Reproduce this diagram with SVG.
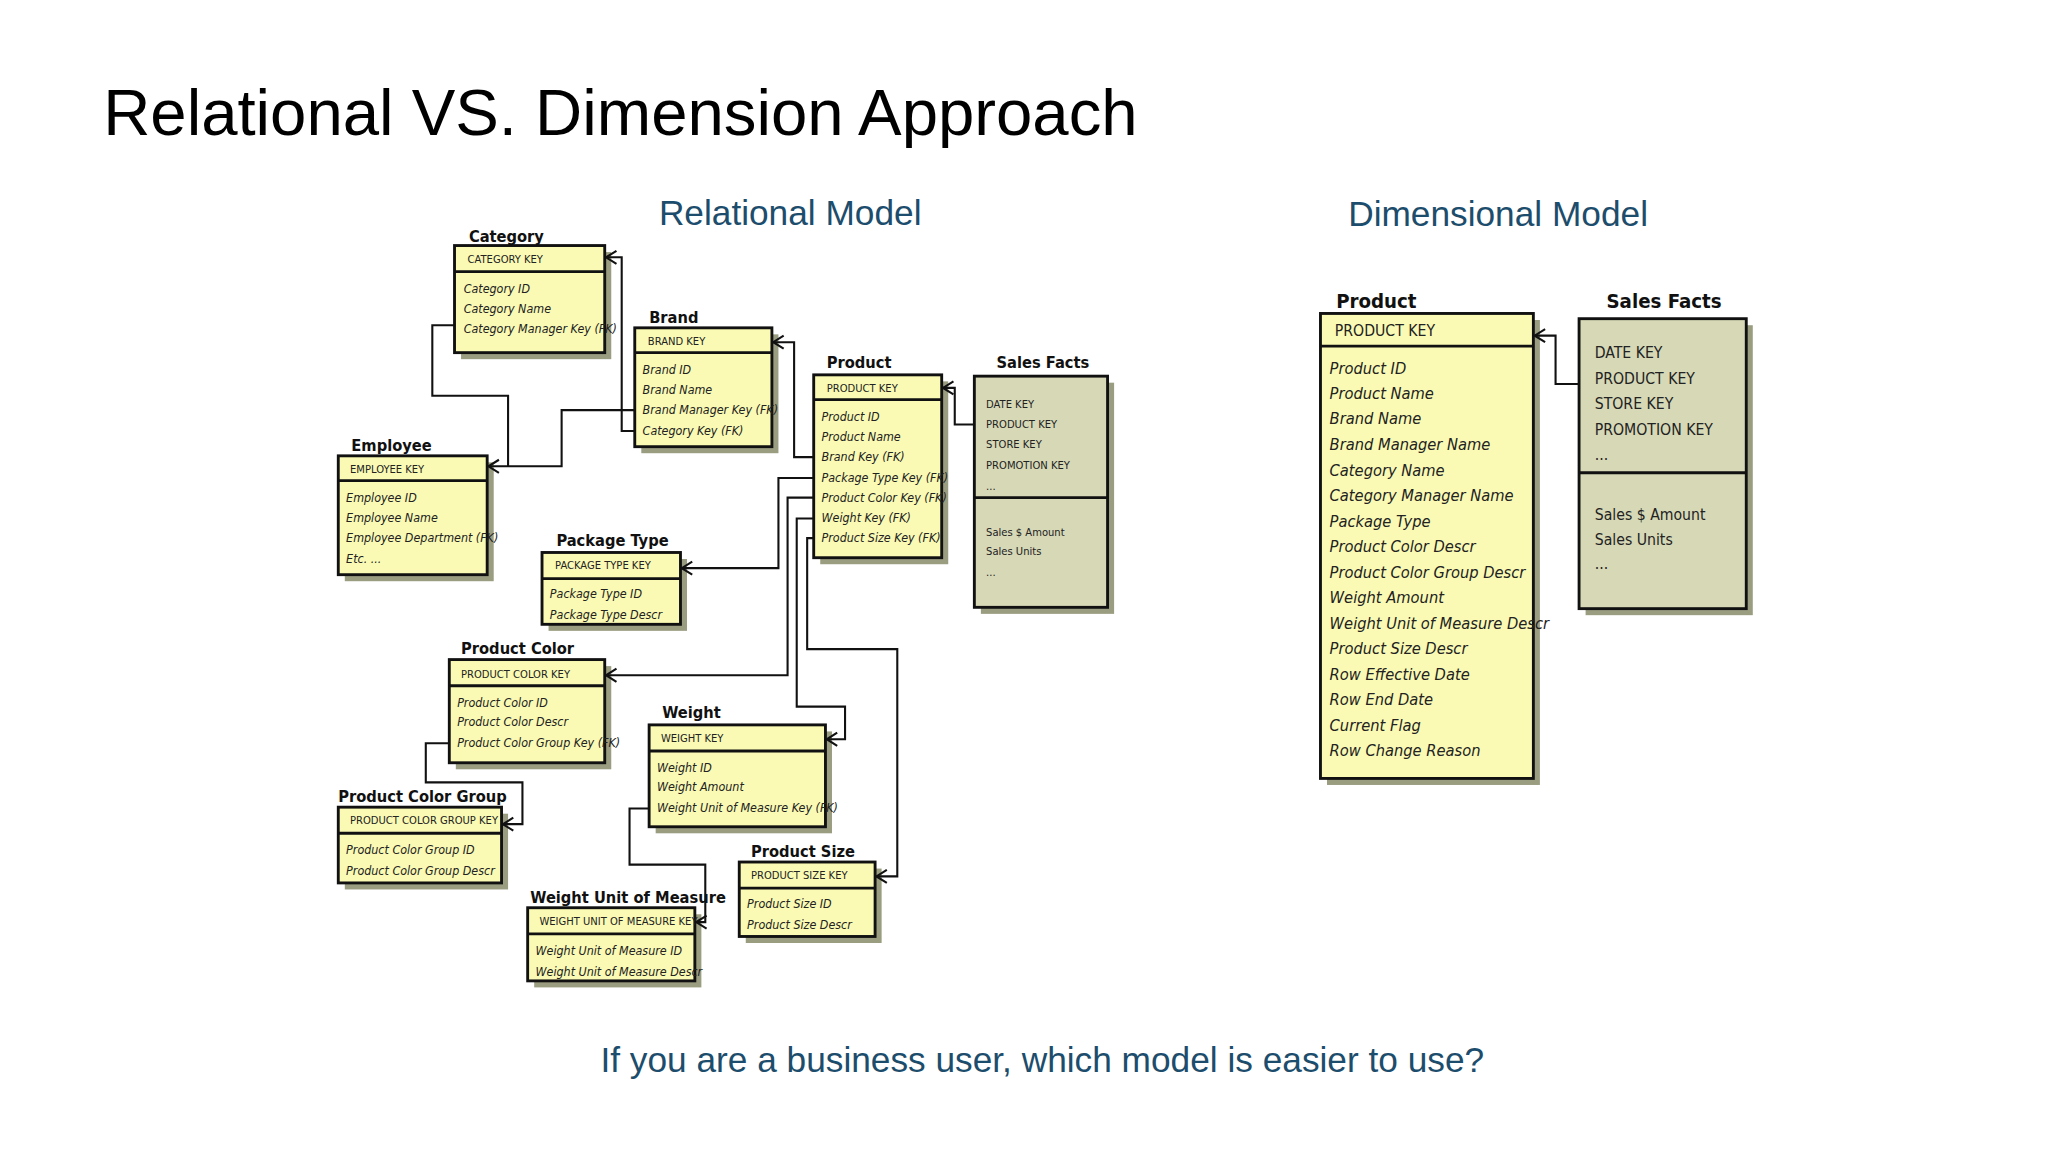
<svg xmlns="http://www.w3.org/2000/svg" width="2048" height="1152" viewBox="0 0 2048 1152">
<defs>
<marker id="ar" markerUnits="userSpaceOnUse" markerWidth="12" markerHeight="12" refX="9" refY="6" orient="auto"><path d="M1,1 L9,6 L1,11" fill="none" stroke="#111" stroke-width="1.6"/></marker>
<style>
.sh{fill:#9a9d80}
.bx{fill:#fafab4;stroke:#111;stroke-width:2.2}
.bg{fill:#d6d8b6;stroke:#111;stroke-width:2.2}
.ln{stroke:#111;stroke-width:2.2}
.tt{font-family:"DejaVu Sans Condensed","Liberation Sans",sans-serif;font-weight:bold;font-size:12.5px;fill:#111;font-stretch:condensed}
.ky{font-family:"DejaVu Sans Condensed","Liberation Sans",sans-serif;font-size:8.5px;fill:#222;font-stretch:condensed}
.at{font-family:"DejaVu Sans Condensed","Liberation Sans",sans-serif;font-style:italic;font-size:9.5px;fill:#222;font-stretch:condensed}
.tt2{font-family:"DejaVu Sans Condensed","Liberation Sans",sans-serif;font-weight:bold;font-size:15.5px;fill:#111}
.ky2{font-family:"DejaVu Sans Condensed","Liberation Sans",sans-serif;font-size:12px;fill:#222}
.at2{font-family:"DejaVu Sans Condensed","Liberation Sans",sans-serif;font-style:italic;font-size:12.5px;fill:#222}
.cn{fill:none;stroke:#111;stroke-width:1.6}
.hd{font-family:"Liberation Sans",Arial,sans-serif;font-size:27px;fill:#1d4d6c}
</style>
</defs>
<rect width="2048" height="1152" fill="#fff"/>
<g transform="scale(1.3061)">
<text x="79" y="103" font-family="Liberation Sans,Arial,sans-serif" font-size="50" fill="#000">Relational VS. Dimension Approach</text>
<text class="hd" x="605" y="172" text-anchor="middle">Relational Model</text>
<text class="hd" x="1147" y="173" text-anchor="middle">Dimensional Model</text>
<text class="hd" x="798" y="821" text-anchor="middle">If you are a business user, which model is easier to use?</text>

<g id="category"><text class="tt" x="359" y="185">Category</text><rect class="sh" x="353" y="193" width="115" height="82"/><rect class="bx" x="348" y="188" width="115" height="82"/><line class="ln" x1="348" y1="208" x2="463" y2="208"/><text class="ky" x="358" y="201">CATEGORY KEY</text><text class="at" x="355" y="224">Category ID</text><text class="at" x="355" y="240">Category Name</text><text class="at" x="355" y="255">Category Manager Key (FK)</text></g>
<g id="brand"><text class="tt" x="497" y="247">Brand</text><rect class="sh" x="491" y="256" width="105" height="91"/><rect class="bx" x="486" y="251" width="105" height="91"/><line class="ln" x1="486" y1="270" x2="591" y2="270"/><text class="ky" x="496" y="264">BRAND KEY</text><text class="at" x="492" y="286">Brand ID</text><text class="at" x="492" y="302">Brand Name</text><text class="at" x="492" y="317">Brand Manager Key (FK)</text><text class="at" x="492" y="333">Category Key (FK)</text></g>
<g id="product"><text class="tt" x="633" y="282">Product</text><rect class="sh" x="628" y="292" width="98" height="140"/><rect class="bx" x="623" y="287" width="98" height="140"/><line class="ln" x1="623" y1="306" x2="721" y2="306"/><text class="ky" x="633" y="300">PRODUCT KEY</text><text class="at" x="629" y="322">Product ID</text><text class="at" x="629" y="338">Product Name</text><text class="at" x="629" y="353">Brand Key (FK)</text><text class="at" x="629" y="369">Package Type Key (FK)</text><text class="at" x="629" y="384">Product Color Key (FK)</text><text class="at" x="629" y="400">Weight Key (FK)</text><text class="at" x="629" y="415">Product Size Key (FK)</text></g>
<g id="salesfacts-rel"><text class="tt" x="763" y="282">Sales Facts</text><rect class="sh" x="751" y="293" width="102" height="177"/><rect class="bg" x="746" y="288" width="102" height="177"/><line class="ln" x1="746" y1="381" x2="848" y2="381"/><text class="ky" x="755" y="312">DATE KEY</text><text class="ky" x="755" y="328">PRODUCT KEY</text><text class="ky" x="755" y="343">STORE KEY</text><text class="ky" x="755" y="359">PROMOTION KEY</text><text class="ky" x="755" y="375">...</text><text class="ky" x="755" y="410">Sales $ Amount</text><text class="ky" x="755" y="425">Sales Units</text><text class="ky" x="755" y="441">...</text></g>
<g id="employee"><text class="tt" x="269" y="345">Employee</text><rect class="sh" x="264" y="354" width="114" height="91"/><rect class="bx" x="259" y="349" width="114" height="91"/><line class="ln" x1="259" y1="368" x2="373" y2="368"/><text class="ky" x="268" y="362">EMPLOYEE KEY</text><text class="at" x="265" y="384">Employee ID</text><text class="at" x="265" y="400">Employee Name</text><text class="at" x="265" y="415">Employee Department (FK)</text><text class="at" x="265" y="431">Etc. ...</text></g>
<g id="packagetype"><text class="tt" x="426" y="418">Package Type</text><rect class="sh" x="420" y="428" width="106" height="55"/><rect class="bx" x="415" y="423" width="106" height="55"/><line class="ln" x1="415" y1="443" x2="521" y2="443"/><text class="ky" x="425" y="436">PACKAGE TYPE KEY</text><text class="at" x="421" y="458">Package Type ID</text><text class="at" x="421" y="474">Package Type Descr</text></g>
<g id="productcolor"><text class="tt" x="353" y="501">Product Color</text><rect class="sh" x="349" y="510" width="119" height="79"/><rect class="bx" x="344" y="505" width="119" height="79"/><line class="ln" x1="344" y1="525" x2="463" y2="525"/><text class="ky" x="353" y="519">PRODUCT COLOR KEY</text><text class="at" x="350" y="541">Product Color ID</text><text class="at" x="350" y="556">Product Color Descr</text><text class="at" x="350" y="572">Product Color Group Key (FK)</text></g>
<g id="weight"><text class="tt" x="507" y="550">Weight</text><rect class="sh" x="502" y="560" width="135" height="78"/><rect class="bx" x="497" y="555" width="135" height="78"/><line class="ln" x1="497" y1="575" x2="632" y2="575"/><text class="ky" x="506" y="568">WEIGHT KEY</text><text class="at" x="503" y="591">Weight ID</text><text class="at" x="503" y="606">Weight Amount</text><text class="at" x="503" y="622">Weight Unit of Measure Key (FK)</text></g>
<g id="productcolorgroup"><text class="tt" x="259" y="614">Product Color Group</text><rect class="sh" x="264" y="623" width="125" height="58"/><rect class="bx" x="259" y="618" width="125" height="58"/><line class="ln" x1="259" y1="638" x2="384" y2="638"/><text class="ky" x="268" y="631">PRODUCT COLOR GROUP  KEY</text><text class="at" x="265" y="654">Product Color Group ID</text><text class="at" x="265" y="670">Product Color Group Descr</text></g>
<g id="weightuom"><text class="tt" x="406" y="691">Weight Unit of Measure</text><rect class="sh" x="409" y="700" width="128" height="56"/><rect class="bx" x="404" y="695" width="128" height="56"/><line class="ln" x1="404" y1="715" x2="532" y2="715"/><text class="ky" x="413" y="708">WEIGHT UNIT OF MEASURE KEY</text><text class="at" x="410" y="731">Weight Unit of Measure ID</text><text class="at" x="410" y="747">Weight Unit of Measure Descr</text></g>
<g id="productsize"><text class="tt" x="575" y="656">Product Size</text><rect class="sh" x="571" y="665" width="104" height="57"/><rect class="bx" x="566" y="660" width="104" height="57"/><line class="ln" x1="566" y1="680" x2="670" y2="680"/><text class="ky" x="575" y="673">PRODUCT SIZE KEY</text><text class="at" x="572" y="695">Product Size ID</text><text class="at" x="572" y="711">Product Size Descr</text></g>

<g id="dim-product"><text class="tt2" x="1023" y="236">Product</text><rect class="sh" x="1016" y="245" width="163" height="356"/><rect class="bx" x="1011" y="240" width="163" height="356"/><line class="ln" x1="1011" y1="265" x2="1174" y2="265"/><text class="ky2" x="1022" y="257">PRODUCT KEY</text>
<text class="at2" x="1018" y="286">Product ID</text><text class="at2" x="1018" y="305.5">Product Name</text><text class="at2" x="1018" y="325">Brand Name</text><text class="at2" x="1018" y="344.6">Brand Manager Name</text><text class="at2" x="1018" y="364.1">Category Name</text><text class="at2" x="1018" y="383.6">Category Manager Name</text><text class="at2" x="1018" y="403.2">Package Type</text><text class="at2" x="1018" y="422.7">Product Color Descr</text><text class="at2" x="1018" y="442.2">Product Color Group Descr</text><text class="at2" x="1018" y="461.8">Weight Amount</text><text class="at2" x="1018" y="481.3">Weight Unit of Measure Descr</text><text class="at2" x="1018" y="500.8">Product  Size Descr</text><text class="at2" x="1018" y="520.4">Row Effective Date</text><text class="at2" x="1018" y="539.9">Row End Date</text><text class="at2" x="1018" y="559.4">Current Flag</text><text class="at2" x="1018" y="579">Row Change Reason</text></g>
<g id="dim-salesfacts"><text class="tt2" x="1230" y="236">Sales Facts</text><rect class="sh" x="1214" y="249" width="128" height="222"/><rect class="bg" x="1209" y="244" width="128" height="222"/><line class="ln" x1="1209" y1="362" x2="1337" y2="362"/><text class="ky2" x="1221" y="274">DATE KEY</text><text class="ky2" x="1221" y="294">PRODUCT KEY</text><text class="ky2" x="1221" y="313">STORE KEY</text><text class="ky2" x="1221" y="333">PROMOTION KEY</text><text class="ky2" x="1221" y="352">...</text><text class="ky2" x="1221" y="398">Sales $ Amount</text><text class="ky2" x="1221" y="417">Sales Units</text><text class="ky2" x="1221" y="436">...</text></g>

<g id="connectors">
<polyline class="cn" points="348,249 331,249 331,303 389,303 389,357"/>
<polyline class="cn" points="486,314 430,314 430,357 374,357" marker-end="url(#ar)"/>
<polyline class="cn" points="486,330 476,330 476,197 464,197" marker-end="url(#ar)"/>
<polyline class="cn" points="623,350 608,350 608,262 592,262" marker-end="url(#ar)"/>
<polyline class="cn" points="746,325 731,325 731,297 722,297" marker-end="url(#ar)"/>
<polyline class="cn" points="623,366 596,366 596,435 522,435" marker-end="url(#ar)"/>
<polyline class="cn" points="623,381 603,381 603,517 464,517" marker-end="url(#ar)"/>
<polyline class="cn" points="623,397 610,397 610,541 647,541 647,566 633,566" marker-end="url(#ar)"/>
<polyline class="cn" points="623,412 618,412 618,497 687,497 687,671 671,671" marker-end="url(#ar)"/>
<polyline class="cn" points="344,569 326,569 326,599 400,599 400,631 385,631" marker-end="url(#ar)"/>
<polyline class="cn" points="497,619 482,619 482,662 540,662 540,706 533,706" marker-end="url(#ar)"/>
<polyline class="cn" points="1209,294 1191,294 1191,257 1175,257" marker-end="url(#ar)"/>
</g>
</g>
</svg>
